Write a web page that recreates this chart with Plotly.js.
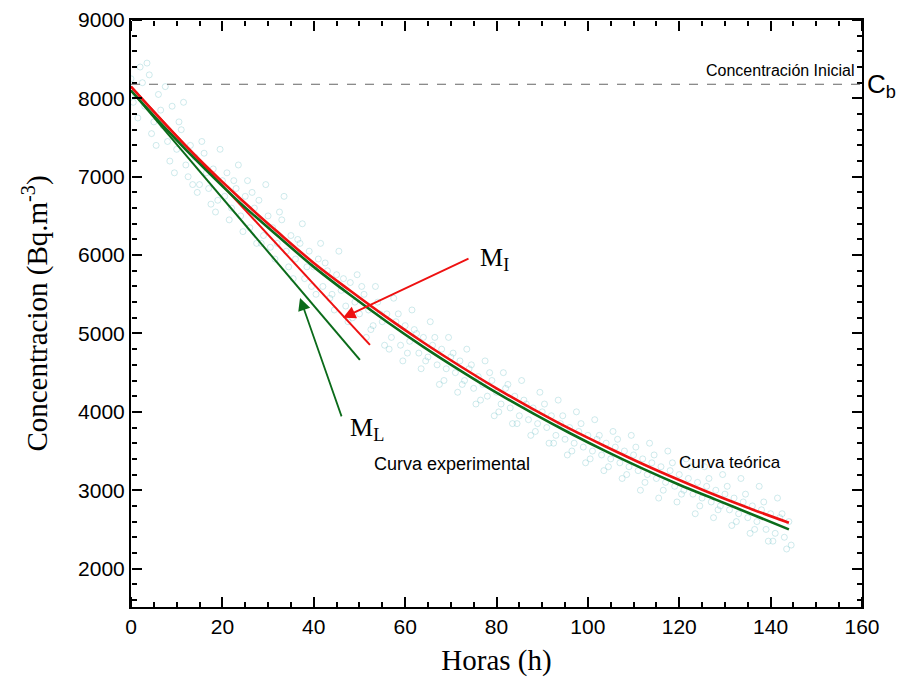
<!DOCTYPE html>
<html>
<head>
<meta charset="utf-8">
<script src="https://cdn.plot.ly/plotly-3.0.1.min.js"></script>
<style>html,body{margin:0;padding:0;background:#fff;}#chart{width:900px;height:694px;}</style>
</head>
<body>
<div id="chart"></div>
<script>
// Measured points (set A, hourly)
const horasA = [0,1,2,3,4,5,6,7,8,9,10,11,12,13,14,15,16,17,18,19,20,21,22,23,24,25,26,27,28,29,30,31,32,33,34,35,36,37,38,39,40,41,42,43,44,45,46,47,48,49,50,51,52,53,54,55,56,57,58,59,60,61,62,63,64,65,66,67,68,69,70,71,72,73,74,75,76,77,78,79,80,81,82,83,84,85,86,87,88,89,90,91,92,93,94,95,96,97,98,99,100,101,102,103,104,105,106,107,108,109,110,111,112,113,114,115,116,117,118,119,120,121,122,123,124,125,126,127,128,129,130,131,132,133,134,135,136,137,138,139,140,141,142,143,144];
const concA = [8250,8050,8400,7900,8300,7700,8050,7650,7450,7900,7350,7600,7150,7400,7250,6900,7300,6850,7100,6700,6950,7050,6600,6850,6500,6750,6350,6600,6700,6250,6500,6350,6150,6450,6050,6250,5950,6150,5700,6050,5850,5950,5600,5800,5500,5750,5550,5350,5650,5400,5250,5500,5300,5100,5400,5150,5250,4950,5150,4850,5100,4900,5050,4750,4950,4700,4850,4600,4800,4550,4700,4500,4650,4400,4550,4300,4450,4350,4200,4400,4250,4100,4300,4050,4200,3950,4150,3900,4050,3850,4000,3800,3950,3700,3850,3650,3800,3600,3750,3550,3700,3500,3650,3450,3600,3400,3550,3350,3500,3300,3450,3250,3400,3200,3350,3150,3300,3100,3250,3050,3200,3000,3150,2950,3100,2900,3050,2850,3000,2800,2950,2750,2900,2700,2850,2650,2800,2600,2750,2500,2700,2450,2650,2400,2600];
// Measured points (set B)
const horasB = [0.5,2.5,4.5,6.5,8.5,10.5,12.5,14.5,16.5,18.5,20.5,22.5,24.5,26.5,28.5,30.5,32.5,34.5,36.5,38.5,40.5,42.5,44.5,46.5,48.5,50.5,52.5,54.5,56.5,58.5,60.5,62.5,64.5,66.5,68.5,70.5,72.5,74.5,76.5,78.5,80.5,82.5,84.5,86.5,88.5,90.5,92.5,94.5,96.5,98.5,100.5,102.5,104.5,106.5,108.5,110.5,112.5,114.5,116.5,118.5,120.5,122.5,124.5,126.5,128.5,130.5,132.5,134.5,136.5,138.5,140.5,142.5,144.5];
const concB = [7950,8200,7550,7850,7200,7700,7000,6800,7050,6550,6750,6950,6300,6800,6150,6100,6550,5850,6200,5850,5500,5900,5300,5700,5200,5600,5050,5250,4800,5250,4750,5000,4650,4950,4400,4750,4350,4600,4150,4500,4000,4350,3850,4100,3750,4100,3600,3950,3500,3850,3400,3700,3300,3650,3200,3550,3100,3450,3000,3350,2950,3300,2800,3150,2750,3050,2600,2950,2500,2850,2350,2700,2300];
// Measured points (set C, scattered outliers)
const horasC = [1.5,3.5,5.5,7.5,9.5,11.5,13.5,15.5,17.5,19.5,21.5,23.5,25.5,27.5,29.5,31.5,33.5,35.5,37.5,39.5,41.5,43.5,45.5,47.5,49.5,51.5,53.5,55.5,57.5,59.5,61.5,63.5,65.5,67.5,69.5,71.5,73.5,75.5,77.5,79.5,81.5,83.5,85.5,87.5,89.5,91.5,93.5,95.5,97.5,99.5,101.5,103.5,105.5,107.5,109.5,111.5,113.5,115.5,117.5,119.5,121.5,123.5,125.5,127.5,129.5,131.5,133.5,135.5,137.5,139.5,141.5,143.5];
const concC = [7750,8450,7400,8150,7050,7950,6900,7450,6650,7350,6450,7150,6950,6150,6900,5950,6750,5700,6400,5600,6150,5450,6050,5150,5750,4950,5600,4850,5450,4650,5300,4550,5150,4350,4950,4250,4800,4100,4650,3950,4500,3850,4400,3700,4250,3600,4150,3450,4000,3350,3900,3250,3750,3150,3700,3000,3600,2900,3500,2850,3400,2700,3300,2650,3200,2550,3150,2450,3050,2350,2900,2250];

// Fitted curves
const horasCurva = [0,8,16,24,32,40,48,56,64,72,80,88,96,104,112,120,128,136,144];
const curvaTeorica = [8150,7640,7160,6715,6300,5900,5545,5205,4885,4585,4300,4035,3785,3555,3335,3130,2935,2755,2585];
const curvaExperimental = [8100,7590,7110,6660,6250,5850,5490,5150,4830,4530,4245,3980,3730,3495,3275,3070,2880,2690,2500];

// Initial slopes (tangent lines)
const horasMI = [0, 52.3];
const concMI = [8150, 4855];
const horasML = [0, 50.1];
const concML = [8100, 4663];

const concInicial = 8180;

const xRange = [0,160];
const yRange = [1510,9000];

const scatterStyle = {symbol:'circle-open', size:6, color:'rgba(130,200,205,0.38)', line:{width:1}};
const traces = [
  {x:horasA, y:concA, type:'scatter', mode:'markers', marker:scatterStyle, hoverinfo:'skip'},
  {x:horasB, y:concB, type:'scatter', mode:'markers', marker:scatterStyle, hoverinfo:'skip'},
  {x:horasC, y:concC, type:'scatter', mode:'markers', marker:scatterStyle, hoverinfo:'skip'},
  {x:horasML, y:concML, type:'scatter', mode:'lines', line:{color:'#0b6b1a', width:2}},
  {x:horasMI, y:concMI, type:'scatter', mode:'lines', line:{color:'#ee1111', width:2}},
  {x:horasCurva, y:curvaExperimental, type:'scatter', mode:'lines', line:{color:'#0b6b1a', width:2.6, shape:'spline'}},
  {x:horasCurva, y:curvaTeorica, type:'scatter', mode:'lines', line:{color:'#ee1111', width:2.6, shape:'spline'}},
  // carriers for the tick-only frame axes (draw nothing)
  {x:horasCurva, y:curvaTeorica, type:'scatter', mode:'none', xaxis:'x2', yaxis:'y2', hoverinfo:'skip'},
  {x:horasCurva, y:curvaTeorica, type:'scatter', mode:'none', xaxis:'x3', yaxis:'y3', hoverinfo:'skip'}
];

const tickFont = {family:'Liberation Sans, Arial, sans-serif', size:21, color:'#000'};
const titleFont = {family:'Liberation Serif, Times New Roman, serif', size:29, color:'#000'};

function tickAxis(extra, dtick, minorDtick, range) {
  return Object.assign({
    range:range, dtick:dtick, tick0:0, anchor:'free',
    ticks:'outside', ticklen:10, tickwidth:2, tickcolor:'#000',
    minor:{dtick:minorDtick, ticks:'outside', ticklen:5, tickwidth:2, tickcolor:'#000'},
    showline:false, showgrid:false, zeroline:false, showticklabels:false
  }, extra);
}

const layout = {
  width:900, height:694,
  margin:{l:131, r:38, t:20, b:87},
  paper_bgcolor:'#fff', plot_bgcolor:'#fff',
  showlegend:false,
  xaxis:{
    range:xRange, dtick:20, tick0:0, ticks:'',
    showline:true, linecolor:'#000', linewidth:2, mirror:true,
    showgrid:false, zeroline:false, tickfont:tickFont,
    title:{text:'Horas (h)', font:titleFont, standoff:12}
  },
  yaxis:{
    range:yRange, dtick:1000, tick0:0, ticks:'',
    showline:true, linecolor:'#000', linewidth:2, mirror:true,
    showgrid:false, zeroline:false, tickfont:tickFont,
    title:{text:'Concentracion (Bq.m<sup>-3</sup>)', font:titleFont, standoff:22}
  },
  xaxis2: tickAxis({overlaying:'x', side:'top', position:0}, 20, 5, xRange),
  yaxis2: tickAxis({overlaying:'y', side:'right', position:0}, 1000, 200, yRange),
  xaxis3: tickAxis({overlaying:'x', side:'bottom', position:1}, 20, 5, xRange),
  yaxis3: tickAxis({overlaying:'y', side:'left', position:1}, 1000, 200, yRange),
  shapes:[
    {type:'line', xref:'x', yref:'y', x0:0, x1:160, y0:concInicial, y1:concInicial,
     line:{color:'#666', width:1, dash:'dash'}}
  ],
  annotations:[
    {xref:'x', yref:'y', axref:'x', ayref:'y', x:46.4, y:5200, ax:74.2, ay:5964, text:'',
     showarrow:true, arrowhead:2, arrowsize:1.4, arrowwidth:1.8, arrowcolor:'#ee1111'},
    {xref:'x', yref:'y', axref:'x', ayref:'y', x:37, y:5454, ax:46.2, ay:3923, text:'',
     showarrow:true, arrowhead:2, arrowsize:1.4, arrowwidth:1.8, arrowcolor:'#0b6b1a'},
    {xref:'x', yref:'y', x:76, y:5950, text:'M<sub>I</sub>', showarrow:false, xanchor:'left', yanchor:'middle',
     font:{family:'Liberation Serif, Times New Roman, serif', size:26, color:'#000'}},
    {xref:'x', yref:'y', x:47.6, y:3780, text:'M<sub>L</sub>', showarrow:false, xanchor:'left', yanchor:'middle',
     font:{family:'Liberation Serif, Times New Roman, serif', size:26, color:'#000'}},
    {xref:'x', yref:'y', x:52.7, y:3335, text:'Curva experimental', showarrow:false, xanchor:'left', yanchor:'middle',
     font:{family:'Liberation Sans, Arial, sans-serif', size:18, color:'#000'}},
    {xref:'x', yref:'y', x:119.5, y:3360, text:'Curva teórica', showarrow:false, xanchor:'left', yanchor:'middle',
     font:{family:'Liberation Sans, Arial, sans-serif', size:17, color:'#000'}},
    {xref:'x', yref:'y', x:158.8, y:8362, text:'Concentración Inicial', showarrow:false, xanchor:'right', yanchor:'middle',
     font:{family:'Liberation Sans, Arial, sans-serif', size:16, color:'#000'}},
    {xref:'paper', yref:'paper', x:1.004, y:0.889, text:'C<sub>b</sub>', showarrow:false, xanchor:'left', yanchor:'middle',
     font:{family:'Liberation Sans, Arial, sans-serif', size:26, color:'#000'}}
  ]
};

Plotly.newPlot('chart', traces, layout, {displayModeBar:false, staticPlot:true});
</script>
</body>
</html>
